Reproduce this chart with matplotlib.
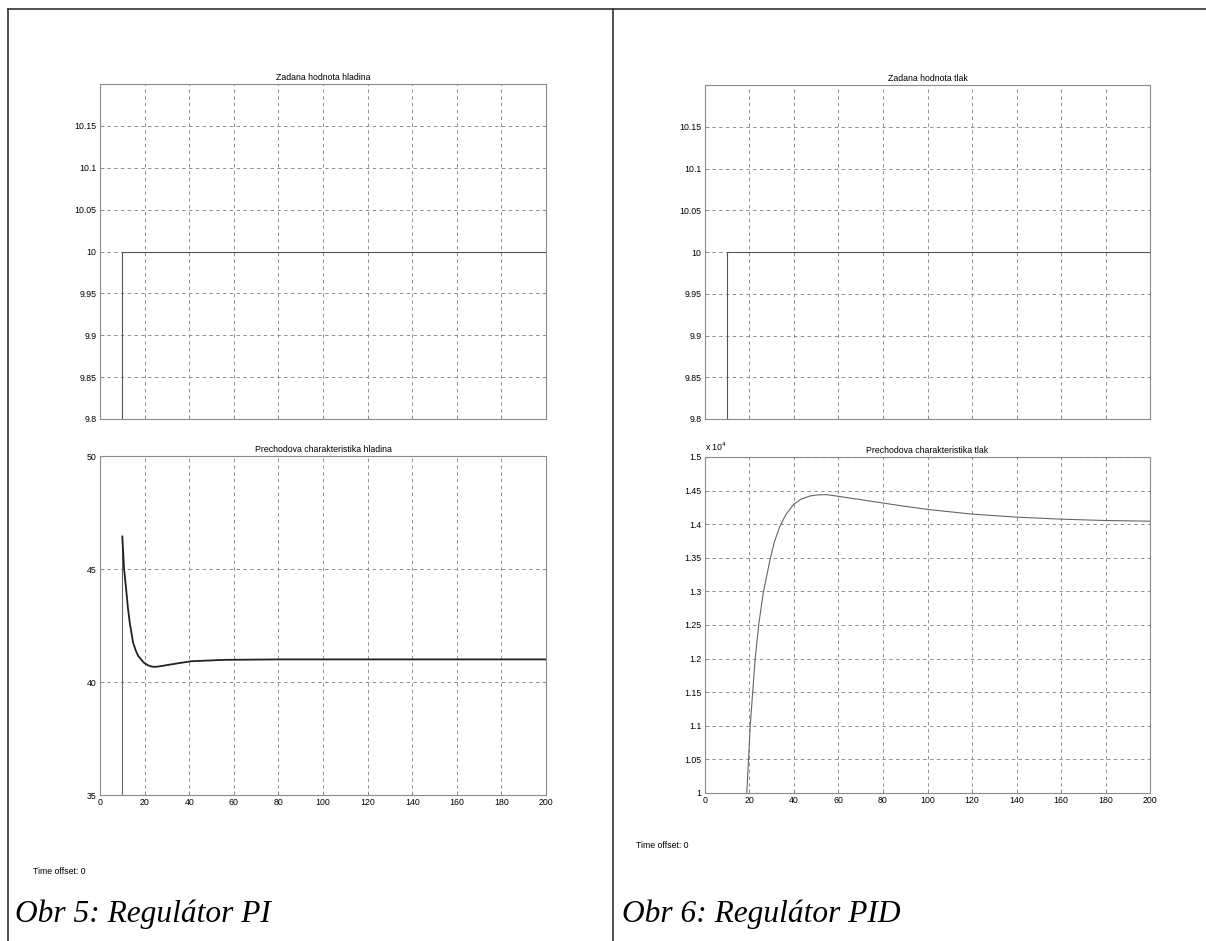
import matplotlib
matplotlib.use("Agg")
import matplotlib.pyplot as plt
from matplotlib.lines import Line2D

# ====== DADOS ======
x_ticks = [0, 20, 40, 60, 80, 100, 120, 140, 160, 180, 200]

# zadana hodnota (skok v t = 10)
step_t = [0, 10, 10, 200]
step_y = [0, 0, 10, 10]
step_yticks = [9.8, 9.85, 9.9, 9.95, 10, 10.05, 10.1, 10.15]
step_ylabels = ["9.8", "9.85", "9.9", "9.95", "10", "10.05", "10.1", "10.15"]

# prechodova charakteristika hladina (PI)
hl_t = [0, 10, 10, 10.8, 11.7, 12.5, 13.3, 14.8, 16.0, 17.1, 19.6, 21.5, 23.3, 25.0,
        27.7, 35.1, 41.1, 55.9, 80, 200]
hl_y = [0, 0, 46.44, 45.0, 44.14, 43.3, 42.65, 41.76, 41.4, 41.16, 40.86, 40.74, 40.68, 40.67,
        40.71, 40.83, 40.92, 40.98, 41.0, 41.0]
hl_yticks = [35, 40, 45, 50]

# prechodova charakteristika tlak (PID)
tl_t = [18.5, 18.8, 20.3, 22.5, 24.2, 26.2, 29.2, 31.2, 33.7, 36.3, 39.7, 43.0, 47.2, 50.5,
        54.6, 60, 70, 80, 88, 100, 120, 140, 160, 180, 200]
tl_y = [9700, 10000, 10990, 11980, 12520, 12980, 13470, 13740, 13970, 14140, 14290, 14370,
        14420, 14436, 14440, 14415, 14365, 14315, 14275, 14220, 14150, 14105, 14075, 14055, 14045]
tl_yticks = [10000, 10500, 11000, 11500, 12000, 12500, 13000, 13500, 14000, 14500, 15000]
tl_ylabels = ["1", "1.05", "1.1", "1.15", "1.2", "1.25", "1.3", "1.35", "1.4", "1.45", "1.5"]

# ====== FIGURA ======
W, H = 1206, 941
FS = 6.3
plt.rcParams["font.family"] = ["Liberation Sans", "DejaVu Sans"]
fig = plt.figure(figsize=(W / 100, H / 100), dpi=100)


def rect(l, t, r, b):
    return [l / W, 1 - b / H, (r - l) / W, (b - t) / H]


def styl(ax, title):
    for s in ax.spines.values():
        s.set_color("#8a8a8a")
        s.set_linewidth(0.8)
    ax.set_xlim(0, 200)
    ax.set_xticks(x_ticks)
    ax.grid(True, color="#8f8f8f", linestyle=(0, (3.5, 3.5)), linewidth=0.7)
    ax.tick_params(direction="in", length=3, width=0.6, color="#8a8a8a",
                   labelsize=FS, pad=2.5)
    ax.set_title(title, fontsize=FS, pad=3)


def fig_line(x0, y0, x1, y1):
    fig.add_artist(Line2D([x0 / W, x1 / W], [1 - y0 / H, 1 - y1 / H],
                          color="#333333", linewidth=1.2))


# ramecek
fig_line(8, 9, W, 9)
fig_line(8, 9, 8, H)
fig_line(613, 9, 613, H)

# ====== LEVA STRANA (PI) ======
ax1 = fig.add_axes(rect(100, 84, 546, 419))
ax1.plot(step_t, step_y, color="#555555", linewidth=0.8)
ax1.set_ylim(9.8, 10.2)
ax1.set_yticks(step_yticks)
ax1.set_yticklabels(step_ylabels)
ax1.set_xticklabels([])
styl(ax1, "Zadana hodnota hladina")

ax2 = fig.add_axes(rect(100, 456, 546, 795))
# skok v t = 10 je tenky sedy, zbytek odezvy tmavy
ax2.plot(hl_t[:3], hl_y[:3], color="#666666", linewidth=0.8)
ax2.plot(hl_t[2:], hl_y[2:], color="#222222", linewidth=1.3)
ax2.set_ylim(35, 50)
ax2.set_yticks(hl_yticks)
styl(ax2, "Prechodova charakteristika hladina")

fig.text(33 / W, 1 - 872 / H, "Time offset: 0", fontsize=FS, va="center")
fig.text(15 / W, 1 - 922 / H, "Obr 5: Regulátor PI", fontsize=22.6,
         family="Liberation Serif", style="italic", va="baseline")

# ====== PRAVA STRANA (PID) ======
ax3 = fig.add_axes(rect(705, 85, 1150, 419))
ax3.plot(step_t, step_y, color="#555555", linewidth=0.8)
ax3.set_ylim(9.8, 10.2)
ax3.set_yticks(step_yticks)
ax3.set_yticklabels(step_ylabels)
ax3.set_xticklabels([])
styl(ax3, "Zadana hodnota tlak")

ax4 = fig.add_axes(rect(705, 457, 1150, 793))
ax4.plot(tl_t, tl_y, color="#666666", linewidth=0.8)
ax4.set_ylim(10000, 15000)
ax4.set_yticks(tl_yticks)
ax4.set_yticklabels(tl_ylabels)
ax4.axhline(15000, color="#222222", linestyle=(0, (3.5, 3.5)), linewidth=0.8)
styl(ax4, "Prechodova charakteristika tlak")
ax4.text(0.0, 1.012, "x 10$^4$", transform=ax4.transAxes, fontsize=FS, va="bottom")

fig.text(636 / W, 1 - 845 / H, "Time offset: 0", fontsize=FS, va="center")
fig.text(622 / W, 1 - 922 / H, "Obr 6: Regulátor PID", fontsize=22.6,
         family="Liberation Serif", style="italic", va="baseline")

fig.savefig("out.png", dpi=100)
